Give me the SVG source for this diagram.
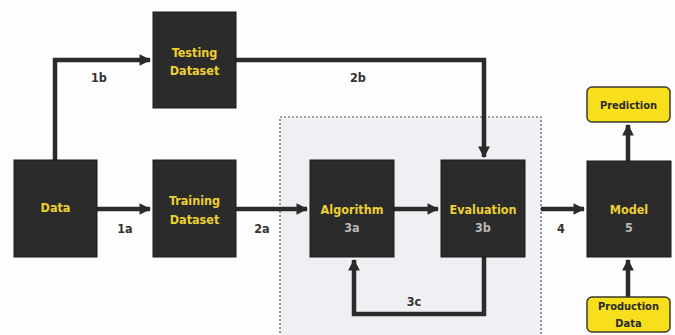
<svg xmlns="http://www.w3.org/2000/svg" width="675" height="335" viewBox="0 0 675 335">
<defs>
<style>
.box{fill:#2c2b2b;stroke:#1a1a1a;stroke-width:1}
.yb{fill:#f7df1e;stroke:#3a3a2a;stroke-width:1.5}
.t{font-family:"DejaVu Sans Condensed","Liberation Sans",sans-serif;font-weight:bold;font-size:12.5px;fill:#ecd033;text-anchor:middle}
.s{font-family:"DejaVu Sans Condensed","Liberation Sans",sans-serif;font-weight:bold;font-size:12.5px;fill:#b9b9b9;text-anchor:middle}
.d{font-family:"DejaVu Sans Condensed","Liberation Sans",sans-serif;font-weight:bold;font-size:11px;fill:#2a2a2a;text-anchor:middle}
.l{font-family:"DejaVu Sans Condensed","Liberation Sans",sans-serif;font-weight:bold;font-size:12.5px;fill:#333;text-anchor:middle}
.c{fill:none;stroke:#2c2b2b;stroke-width:4.5}
</style>
<marker id="ah" viewBox="0 0 10 10" refX="9" refY="5" markerWidth="2.6" markerHeight="2.6" orient="auto" markerUnits="strokeWidth">
<path d="M0,0 L10,5 L0,10 z" fill="#2c2b2b"/>
</marker>
</defs>
<rect width="675" height="335" fill="#fdfdfe"/>
<rect id="group" x="280" y="117" width="261" height="225" fill="#f0f0f4" stroke="#555" stroke-width="1.2" stroke-dasharray="2,2"/>
<g id="connectors">
<path class="c" d="M55,160 V60 H150" marker-end="url(#ah)"/>
<path class="c" d="M236,60 H484 V157" marker-end="url(#ah)"/>
<path class="c" d="M97,209 H150" marker-end="url(#ah)"/>
<path class="c" d="M236,209 H307" marker-end="url(#ah)"/>
<path class="c" d="M394,209 H438" marker-end="url(#ah)"/>
<path class="c" d="M541,209 H584" marker-end="url(#ah)"/>
<path class="c" d="M484,257 V314 H354 V260" marker-end="url(#ah)"/>
<path class="c" d="M628,161 V125" marker-end="url(#ah)"/>
<path class="c" d="M628,297 V260" marker-end="url(#ah)"/>
<text class="l" x="99" y="82">1b</text>
<text class="l" x="358" y="82">2b</text>
<text class="l" x="125" y="233">1a</text>
<text class="l" x="262" y="233">2a</text>
<text class="l" x="561" y="233">4</text>
<text class="l" x="414" y="306">3c</text>
</g>
<g id="testing"><rect class="box" x="153" y="12" width="83" height="96"/><text class="t" x="194.5" y="57">Testing</text><text class="t" x="194.5" y="75">Dataset</text></g>
<g id="data"><rect class="box" x="14" y="160" width="83" height="97"/><text class="t" x="55.5" y="212">Data</text></g>
<g id="training"><rect class="box" x="153" y="160" width="83" height="97"/><text class="t" x="194.5" y="205">Training</text><text class="t" x="194.5" y="224">Dataset</text></g>
<g id="algorithm"><rect class="box" x="310" y="160" width="84" height="97"/><text class="t" x="352" y="214">Algorithm</text><text class="s" x="352" y="232">3a</text></g>
<g id="evaluation"><rect class="box" x="441" y="160" width="84" height="97"/><text class="t" x="483" y="214">Evaluation</text><text class="s" x="483" y="232">3b</text></g>
<g id="model"><rect class="box" x="587" y="161" width="84" height="96"/><text class="t" x="629" y="214">Model</text><text class="s" x="629" y="232">5</text></g>
<g id="prediction"><rect class="yb" x="587" y="87" width="83" height="35" rx="5"/><text class="d" x="628.5" y="108.5">Prediction</text></g>
<g id="production"><rect class="yb" x="587" y="297" width="83" height="35" rx="5"/><text class="d" x="628.5" y="310">Production</text><text class="d" x="628.5" y="327">Data</text></g>
</svg>
